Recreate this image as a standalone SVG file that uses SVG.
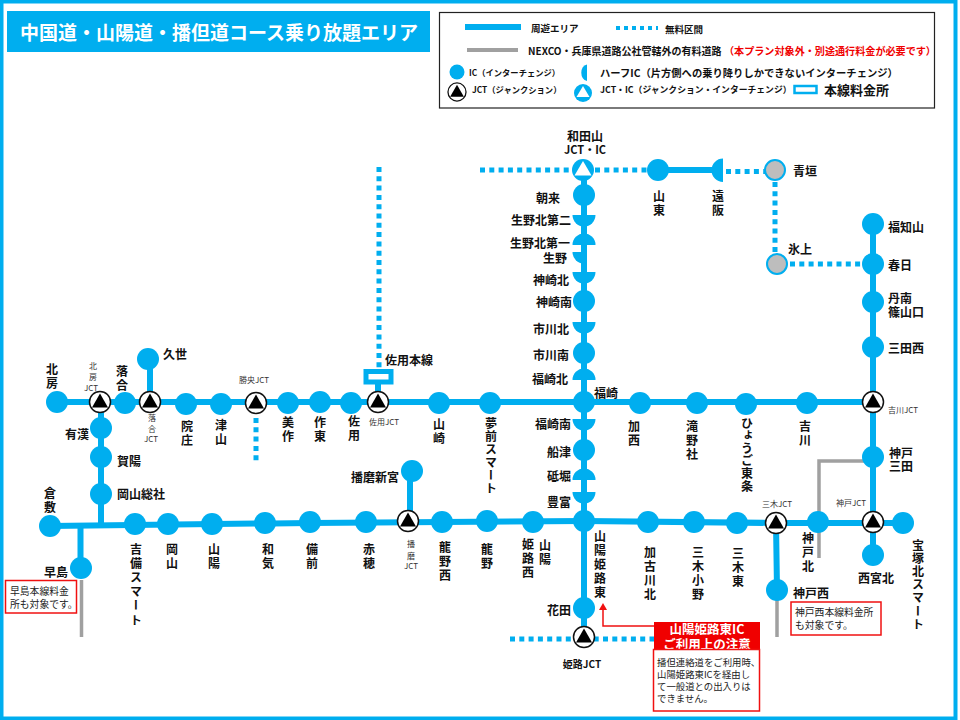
<svg xmlns="http://www.w3.org/2000/svg" width="960" height="720" viewBox="0 0 960 720">
<style>
text{font-family:"Noto Sans CJK JP","Noto Sans",sans-serif;fill:#111;dominant-baseline:central}
.n{font-size:12px;font-weight:700}
.e{text-anchor:end}
.m{text-anchor:middle}
.v{writing-mode:vertical-rl;letter-spacing:2px;text-anchor:start}
.s{font-size:8px;font-weight:400;fill:#333}
.sv{font-size:8px;font-weight:400;fill:#333;text-anchor:middle}
.ic{fill:#00aeef}
.gr{fill:#bdbdbd;stroke:#00aeef;stroke-width:2}
.road{fill:none;stroke:#00aeef;stroke-width:6}
.free{fill:none;stroke:#00aeef;stroke-width:5;stroke-dasharray:5 4.3}
.grey{fill:none;stroke:#a0a0a0;stroke-width:3.5}
.note{fill:#fff;stroke:#f01010;stroke-width:1.5}
.nt{font-size:9.8px;font-weight:400;fill:#222}
.lg{font-size:9.5px;font-weight:700}
</style>
<defs>
<g id="jct"><circle r="10.5" fill="#fff" stroke="#111" stroke-width="1.5"/><path d="M0-8.500 8 5.500H-8Z" fill="#000"/></g>
<circle id="c" r="11" class="ic"/>
<path id="hd" d="M-11.500 0H11.500A11.500 11.500 0 0 1-11.500 0Z" class="ic"/>
<path id="hu" d="M-11.500 0H11.500A11.500 11.500 0 0 0-11.500 0Z" class="ic"/>
</defs>
<rect x="1.500" y="1.500" width="954" height="717" fill="#fff" stroke="#00aeef" stroke-width="4"/>
<g id="title"><rect x="7" y="11" width="423" height="41" fill="#00aeef"/><text x="20" y="31" font-size="19" font-weight="700" style="fill:#fff">中国道・山陽道・播但道コース乗り放題エリア</text></g>
<g id="legend">
<rect x="439.500" y="12.500" width="495" height="95.500" fill="#fff" stroke="#222" stroke-width="1.200"/>
<path d="M465 27H521" class="road"/><text x="531" y="28" class="lg">周遊エリア</text>
<path d="M616 28H658" fill="none" stroke="#00aeef" stroke-width="4" stroke-dasharray="4 4"/><text x="665" y="29" class="lg">無料区間</text>
<path d="M467 50H518" fill="none" stroke="#a0a0a0" stroke-width="4"/><text x="528" y="50" class="lg" style="font-size:10px">NEXCO・兵庫県道路公社管轄外の有料道路</text>
<text x="724" y="50" class="lg" style="fill:#f00000;font-size:10.100px">（本プラン対象外・別途通行料金が必要です）</text>
<circle cx="457" cy="72" r="7.500" class="ic"/><text x="469" y="72" class="lg" style="font-size:8.300px">IC（インターチェンジ）</text>
<use href="#jct" transform="translate(457 92) scale(.86)"/><text x="472" y="89" class="lg" style="font-size:8.300px">JCT（ジャンクション）</text>
<path d="M587 64.500A7.500 8.500 0 0 0 587 81Z" class="ic"/><text x="600" y="72" class="lg" style="font-size:10.300px">ハーフIC（片方側への乗り降りしかできないインターチェンジ）</text>
<g transform="translate(583 93)"><circle r="9" class="ic"/><path d="M0-7 6.500 4H-6.500Z" fill="#fff"/></g><text x="600" y="89" class="lg" style="font-size:8.800px">JCT・IC（ジャンクション・インターチェンジ）</text>
<rect x="794.500" y="86" width="22" height="7" fill="#fff" stroke="#00aeef" stroke-width="2.500"/><text x="824" y="89" class="n" style="font-size:13px">本線料金所</text>
</g>
<g id="connectors">
<path class="road" d="M57 402 H873"/>
<path class="road" d="M50 526 L310 523 L584 521 L776 523 L903 523"/>
<path class="road" d="M584 178V608M584 608V637"/>
<path class="road" d="M658 170H722"/>
<path class="road" d="M873 224V555"/>
<path class="road" d="M150 359V402M101 402V524M80.500 526V568M410 471V521M776 523L777 590M378 380V402"/>
<path class="free" d="M480 170H572M595 170H648M726 171.500H765M775 182V252M790 264H862M256 418V462M379 167V368M510 639H655"/>
<path class="grey" d="M873 461H819V558M81.500 580V637M777 600V637"/>
<path d="M654 626H603V608" fill="none" stroke="#f01010" stroke-width="1.500"/>
<path d="M603 603 607 610H599Z" fill="#f01010"/>
</g>
<g id="n-kitafusa"><use href="#c" x="57" y="402"/><text class="n v" x="52" y="363">北房</text></g>
<g id="n-kitafusa-jct"><use href="#jct" x="100" y="402"/><text class="sv" x="93" y="365">北</text><text class="sv" x="93" y="376">房</text><text class="sv" x="91" y="387">JCT</text></g>
<g id="n-ochiai"><use href="#c" x="125" y="403"/><text class="n v" x="122" y="365">落合</text></g>
<g id="n-ochiai-jct"><use href="#jct" x="150" y="402"/><text class="sv" x="152" y="417">落</text><text class="sv" x="152" y="428">合</text><text class="sv" x="151" y="438">JCT</text></g>
<g id="n-kuze"><use href="#c" x="148" y="359"/><text class="n" x="163" y="353">久世</text></g>
<g id="n-innosho"><use href="#c" x="186" y="404"/><text class="n v" x="187" y="420">院庄</text></g>
<g id="n-tsuyama"><use href="#c" x="221" y="404"/><text class="n v" x="221" y="419">津山</text></g>
<g id="n-shoo-jct"><use href="#jct" x="256" y="403"/><text class="sv" x="254" y="379">勝央JCT</text></g>
<g id="n-mimasaka"><use href="#c" x="288" y="403"/><text class="n v" x="288" y="416">美作</text></g>
<g id="n-sakuto"><use href="#c" x="320" y="402"/><text class="n v" x="320" y="416">作東</text></g>
<g id="n-sayo"><use href="#c" x="351" y="403"/><text class="n v" x="354" y="415">佐用</text></g>
<g id="n-sayo-jct"><use href="#jct" x="378" y="402"/><text class="sv" x="384" y="421">佐用JCT</text></g>
<g id="n-sayo-toll"><rect x="366" y="371.500" width="25" height="10.500" fill="#fff" stroke="#00aeef" stroke-width="5"/><text class="n" x="385" y="359">佐用本線</text></g>
<g id="n-yamasaki"><use href="#c" x="439" y="403"/><text class="n v" x="439" y="418">山崎</text></g>
<g id="n-yumesaki"><use href="#c" x="490" y="403"/><text class="n v" x="491" y="417" style="letter-spacing:1px">夢前スマート</text></g>
<g id="n-fukusaki"><use href="#c" x="584" y="402"/><text class="n" x="594" y="392">福崎</text></g>
<g id="n-kasai"><use href="#c" x="640" y="403"/><text class="n v" x="634" y="420">加西</text></g>
<g id="n-takino"><use href="#c" x="697" y="403"/><text class="n v" x="692" y="420">滝野社</text></g>
<g id="n-tojo"><use href="#c" x="746" y="404"/><text class="n v" x="747" y="417" style="letter-spacing:.6px">ひょうご東条</text></g>
<g id="n-yokawa"><use href="#c" x="807" y="403"/><text class="n v" x="805" y="420">吉川</text></g>
<g id="n-yokawa-jct"><use href="#jct" x="873" y="402"/><text class="s" x="888" y="409">吉川JCT</text></g>
<g id="n-ukan"><use href="#c" x="101" y="428"/><text class="n m" x="77" y="433">有漢</text></g>
<g id="n-kayo"><use href="#c" x="101" y="457"/><text class="n" x="117" y="460">賀陽</text></g>
<g id="n-soja"><use href="#c" x="101" y="494"/><text class="n" x="117" y="493">岡山総社</text></g>
<g id="n-kurashiki"><use href="#c" x="50" y="526"/><text class="n v" x="50" y="487">倉敷</text></g>
<g id="n-hayashima"><use href="#c" x="81" y="568"/><text class="n m" x="56" y="571">早島</text></g>
<g id="n-kibi"><use href="#c" x="135" y="524"/><text class="n v" x="136" y="543" style="letter-spacing:2.200px">吉備スマート</text></g>
<g id="n-okayama"><use href="#c" x="168" y="524"/><text class="n v" x="172" y="543">岡山</text></g>
<g id="n-sanyo"><use href="#c" x="212" y="524"/><text class="n v" x="214" y="543">山陽</text></g>
<g id="n-wake"><use href="#c" x="265" y="523"/><text class="n v" x="268" y="543">和気</text></g>
<g id="n-bizen"><use href="#c" x="310" y="522"/><text class="n v" x="312" y="543">備前</text></g>
<g id="n-ako"><use href="#c" x="366" y="522"/><text class="n v" x="369" y="543">赤穂</text></g>
<g id="n-harima-jct"><use href="#jct" x="408" y="521"/><text class="sv" x="411" y="543">播</text><text class="sv" x="411" y="555">磨</text><text class="sv" x="411" y="565">JCT</text></g>
<g id="n-shingu"><use href="#c" x="412" y="471"/><text class="n" x="351" y="476">播磨新宮</text></g>
<g id="n-tatsunonishi"><use href="#c" x="442" y="522"/><text class="n v" x="445" y="541">龍野西</text></g>
<g id="n-tatsuno"><use href="#c" x="487" y="521"/><text class="n v" x="487" y="543">龍野</text></g>
<g id="n-himejinishi"><use href="#c" x="533" y="522"/><text class="n v" x="545" y="539">山陽</text><text class="n v" x="528" y="538">姫路西</text></g>
<g id="n-junction"><use href="#c" x="584" y="521"/></g>
<g id="n-himejihigashi"><text class="n v" x="600" y="530">山陽姫路東</text></g>
<g id="n-kakogawa"><use href="#c" x="648" y="522"/><text class="n v" x="650" y="546">加古川北</text></g>
<g id="n-mikiono"><use href="#c" x="694" y="522"/><text class="n v" x="698" y="546">三木小野</text></g>
<g id="n-mikihigashi"><use href="#c" x="737" y="523"/><text class="n v" x="738" y="547">三木東</text></g>
<g id="n-miki-jct"><use href="#jct" x="776" y="523"/><text class="sv" x="777" y="503">三木JCT</text></g>
<g id="n-kobekita"><use href="#c" x="818" y="522"/><text class="n v" x="808" y="532">神戸北</text></g>
<g id="n-kobe-jct"><use href="#jct" x="873" y="522"/><text class="sv" x="851" y="502">神戸JCT</text></g>
<g id="n-takarazuka"><use href="#c" x="903" y="523"/><text class="n v" x="918" y="539" style="letter-spacing:1.200px">宝塚北スマート</text></g>
<g id="n-nishinomiya"><use href="#c" x="873" y="555"/><text class="n m" x="876" y="577">西宮北</text></g>
<g id="n-kobenishi"><use href="#c" x="777" y="590"/><text class="n" x="793" y="592">神戸西</text></g>
<g id="n-hanada"><use href="#c" x="584" y="608"/><text class="n m" x="559" y="609">花田</text></g>
<g id="n-himeji-jct"><use href="#jct" x="584" y="637"/><text class="n m" x="582" y="663" style="font-size:10px">姫路JCT</text></g>
<g id="n-wadayama"><g transform="translate(583 170)"><circle r="11" class="ic"/><path d="M0-9 8.500 5.500H-8.500Z" fill="#fff"/></g><text class="n m" x="585" y="135">和田山</text><text class="n m" x="585" y="149" style="font-size:11px">JCT・IC</text></g>
<g id="n-asago"><use href="#c" x="584" y="195"/><text class="n m" x="548" y="197">朝来</text></g>
<g id="n-ikunokita2"><use href="#hd" x="584" y="215"/><text class="n e" x="571" y="219">生野北第二</text></g>
<g id="n-ikunokita1"><use href="#hu" x="584" y="245"/><text class="n e" x="570" y="242">生野北第一</text></g>
<g id="n-ikuno"><path d="M572.500 252H584V263.500A11.500 11.500 0 0 1 572.500 252Z" class="ic"/><text class="n m" x="555" y="257">生野</text></g>
<g id="n-kanzakikita"><use href="#hd" x="584" y="272"/><text class="n e" x="569" y="279">神崎北</text></g>
<g id="n-kanzakiminami"><use href="#c" x="584" y="301"/><text class="n e" x="572" y="301">神崎南</text></g>
<g id="n-ichikawakita"><use href="#hd" x="584" y="322"/><text class="n e" x="569" y="328">市川北</text></g>
<g id="n-ichikawaminami"><use href="#c" x="584" y="353"/><text class="n e" x="569" y="354">市川南</text></g>
<g id="n-fukusakikita"><use href="#hu" x="584" y="380"/><text class="n e" x="568" y="378">福崎北</text></g>
<g id="n-fukusakiminami"><use href="#hd" x="584" y="419"/><text class="n e" x="571" y="423">福崎南</text></g>
<g id="n-funatsu"><use href="#c" x="584" y="450"/><text class="n e" x="571" y="451">船津</text></g>
<g id="n-tobori"><use href="#hu" x="584" y="480"/><text class="n e" x="571" y="475">砥堀</text></g>
<g id="n-toyotomi"><use href="#hd" x="584" y="492"/><text class="n e" x="571" y="501">豊富</text></g>
<g id="n-santo"><use href="#c" x="658" y="170"/><text class="n v" x="659" y="190">山東</text></g>
<g id="n-toosaka"><path d="M723 158.500V182A11.500 11.750 0 0 1 723 158.500Z" class="ic"/><text class="n v" x="718" y="190">遠阪</text></g>
<g id="n-aogaki"><circle cx="775" cy="170" r="10" class="gr"/><text class="n" x="793" y="170">青垣</text></g>
<g id="n-hikami"><circle cx="777" cy="264" r="10" class="gr"/><text class="n" x="788" y="248">氷上</text></g>
<g id="n-fukuchiyama"><use href="#c" x="873" y="224"/><text class="n" x="888" y="226">福知山</text></g>
<g id="n-kasuga"><use href="#c" x="873" y="264"/><text class="n" x="888" y="264">春日</text></g>
<g id="n-sasayama"><use href="#c" x="873" y="302"/><text class="n" x="888" y="297">丹南</text><text class="n" x="888" y="311">篠山口</text></g>
<g id="n-sandanishi"><use href="#c" x="873" y="347"/><text class="n" x="888" y="347">三田西</text></g>
<g id="n-kobesanda"><use href="#c" x="873" y="457"/><text class="n" x="889" y="452">神戸</text><text class="n" x="889" y="465">三田</text></g>
<g id="note-hayashima"><rect x="5.500" y="580.500" width="71" height="32.500" class="note"/><text class="nt" x="10" y="591">早島本線料金</text><text class="nt" x="10" y="604">所も対象です。</text></g>
<g id="note-kobenishi"><rect x="791" y="602" width="90" height="33" class="note"/><text class="nt" x="795" y="612">神戸西本線料金所</text><text class="nt" x="795" y="625">も対象です。</text></g>
<g id="note-himejihigashi">
<rect x="654" y="622" width="106" height="28" fill="#f00000"/>
<text class="m" x="707" y="628.500" style="fill:#fff;font-size:12.500px;font-weight:700">山陽姫路東IC</text>
<text class="m" x="707" y="643" style="fill:#fff;font-size:12.500px;font-weight:700">ご利用上の注意</text>
<rect x="653.500" y="649.500" width="106" height="61.500" class="note"/>
<text class="nt" x="657" y="662" style="font-size:9.400px">播但連絡道をご利用時、</text>
<text class="nt" x="657" y="674" style="font-size:9.400px">山陽姫路東ICを経由し</text>
<text class="nt" x="657" y="686" style="font-size:9.400px">て一般道との出入りは</text>
<text class="nt" x="657" y="698" style="font-size:9.400px">できません。</text>
</g>
</svg>
